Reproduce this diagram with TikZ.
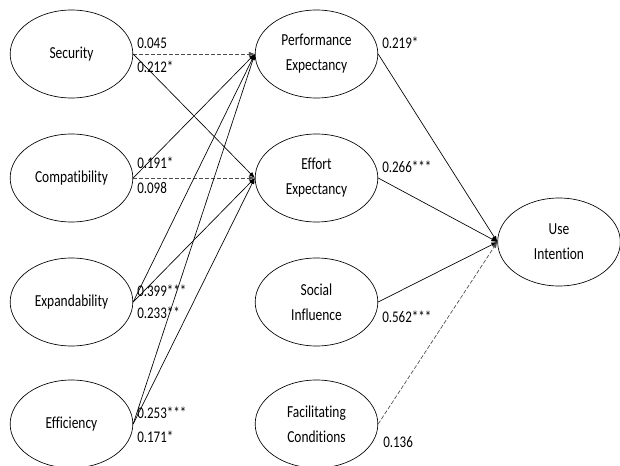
\documentclass[tikz,border=0pt]{standalone}
\usepackage{fontspec}
\setmainfont{Carlito}[FakeStretch=0.8,Ligatures={NoCommon}]
\usetikzlibrary{shapes.geometric,arrows.meta}
\begin{document}
\begin{tikzpicture}[x=0.75pt,y=-0.75pt,
  construct/.style={draw=black,line width=0.5pt,ellipse,minimum width=92pt,minimum height=66pt,inner sep=0pt,align=center,font=\fontsize{12.6pt}{18.75pt}\selectfont},
  path/.style={draw=black,line width=0.5pt,-{Latex[length=4.5pt,width=3.5pt]}},
  nspath/.style={draw=black!70,line width=0.5pt,dash pattern=on 3pt off 1.5pt,-{Latex[length=4.5pt,width=3.5pt]}},
  coef/.style={anchor=west,inner sep=0pt,font=\fontsize{12.2pt}{14pt}\selectfont}]
\useasboundingbox (0,0) rectangle (620,466);
\node[construct] (sec) at (71.5,54) {Security};
\node[construct] (com) at (71.5,178) {Compatibility};
\node[construct] (exp) at (71.5,302) {Expandability};
\node[construct] (eff) at (71.5,424) {Efficiency};
\node[construct] (pe) at (316.5,54) {Performance\\Expectancy};
\node[construct] (ee) at (316.5,178) {Effort\\Expectancy};
\node[construct] (si) at (316.5,302) {Social\\Influence};
\node[construct] (fc) at (316.5,424) {Facilitating\\Conditions};
\node[construct] (ui) at (559,242) {Use\\Intention};
\draw[nspath] (sec.east) -- (pe.west);
\draw[path] (sec.east) -- (ee.west);
\draw[path] (com.east) -- (pe.west);
\draw[nspath] (com.east) -- (ee.west);
\draw[path] (exp.east) -- (pe.west);
\draw[path] (exp.east) -- (ee.west);
\draw[path] (eff.east) -- (pe.west);
\draw[path] (eff.east) -- (ee.west);
\draw[path] (pe.east) -- (ui.west);
\draw[path] (ee.east) -- (ui.west);
\draw[path] (si.east) -- (ui.west);
\draw[nspath] (fc.east) -- (ui.west);
\node[coef] (l1) at (137,43) {0.045};
\node[coef] (l2) at (137,67) {0.212*};
\node[coef] (l3) at (137,163) {0.191*};
\node[coef] (l4) at (137,188) {0.098};
\node[coef] (l5) at (137,291) {0.399***};
\node[coef] (l6) at (137,313) {0.233**};
\node[coef] (l7) at (137,413) {0.253***};
\node[coef] (l8) at (137,437) {0.171*};
\node[coef] (l9) at (382,43) {0.219*};
\node[coef] (l10) at (382,167) {0.266***};
\node[coef] (l11) at (382,317) {0.562***};
\node[coef] (l12) at (383,442) {0.136};
\end{tikzpicture}
\end{document}
